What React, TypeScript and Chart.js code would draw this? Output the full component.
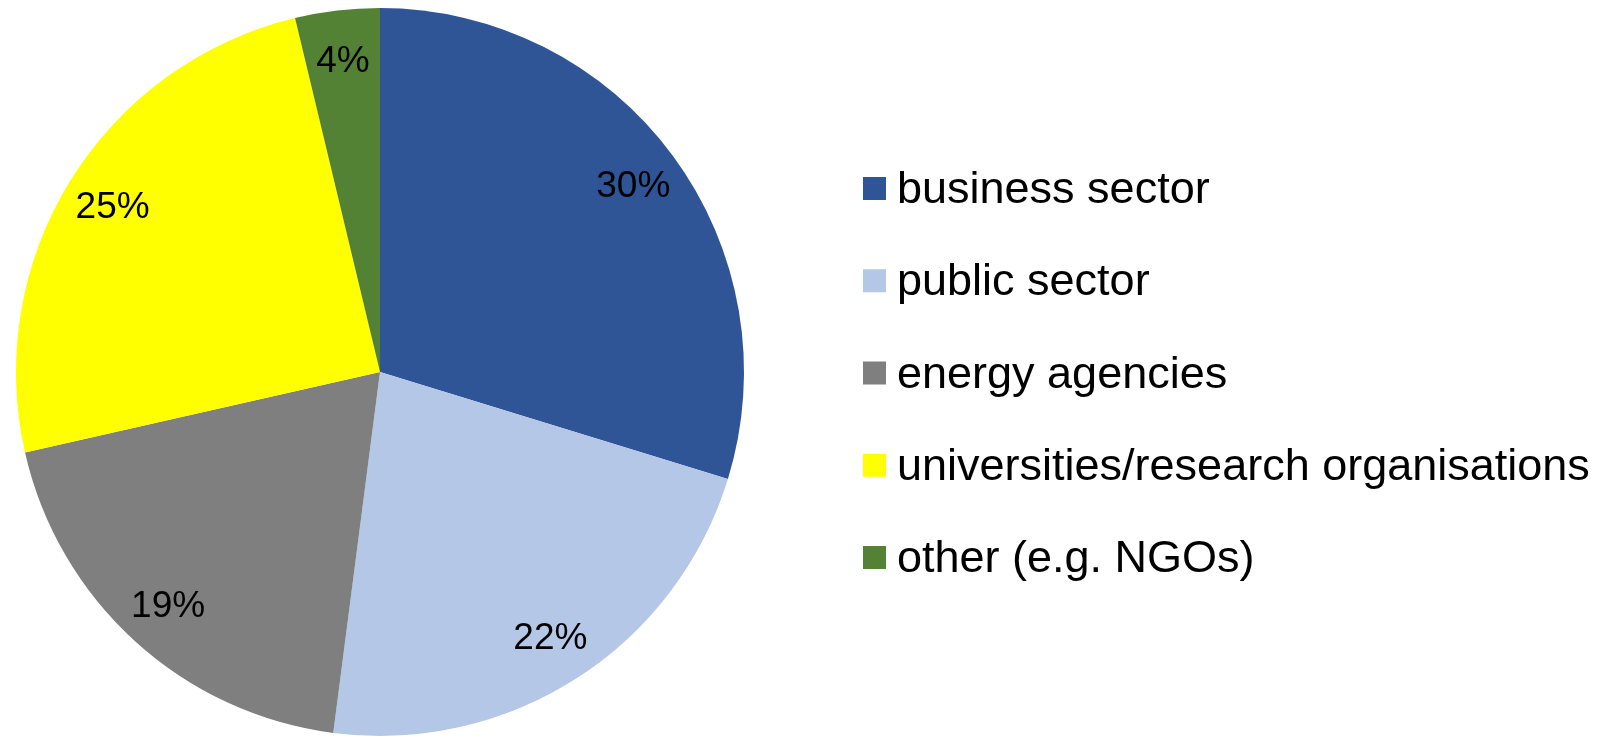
import React, { useEffect, useRef } from "react";
import { Chart, registerables } from "chart.js";

Chart.register(...registerables);

const categories = [
  "business sector",
  "public sector",
  "energy agencies",
  "universities/research organisations",
  "other (e.g. NGOs)",
];
const shares = [29.75, 22.3, 19.4, 24.8, 3.75];
const sliceLabels = ["30%", "22%", "19%", "25%", "4%"];
const colors = ["#2F5597", "#B4C7E7", "#7F7F7F", "#FFFF00", "#548235"];

const FONT = "'Liberation Sans', Arial, sans-serif";

const sliceLabelPlugin = {
  id: "sliceLabels",
  afterDatasetsDraw(chart: any) {
    const ctx = chart.ctx;
    const meta = chart.getDatasetMeta(0);
    ctx.save();
    ctx.font = `37px ${FONT}`;
    ctx.fillStyle = "#000000";
    ctx.textAlign = "center";
    ctx.textBaseline = "middle";
    meta.data.forEach((arc: any, i: number) => {
      const p = arc.getProps(["x", "y", "startAngle", "endAngle", "outerRadius"], true);
      const mid = (p.startAngle + p.endAngle) / 2;
      const r = p.outerRadius * 0.865;
      ctx.fillText(sliceLabels[i], p.x + Math.cos(mid) * r, p.y + Math.sin(mid) * r + 2);
    });
    ctx.restore();
  },
};

const legendPlugin = {
  id: "sideLegend",
  afterDraw(chart: any) {
    const ctx = chart.ctx;
    const boxX = 863;
    const box = 23;
    const firstCenter = 188.5;
    const step = 92.25;
    ctx.save();
    ctx.font = `45px ${FONT}`;
    ctx.textAlign = "left";
    ctx.textBaseline = "alphabetic";
    categories.forEach((name, i) => {
      const cy = firstCenter + i * step;
      ctx.fillStyle = colors[i];
      ctx.fillRect(boxX, cy - box / 2, box, box);
      ctx.fillStyle = "#000000";
      ctx.fillText(name, boxX + box + 11, cy + 14.5);
    });
    ctx.restore();
  },
};

export default function App() {
  const canvasRef = useRef<HTMLCanvasElement | null>(null);

  useEffect(() => {
    if (!canvasRef.current) return;
    const chart = new Chart(canvasRef.current, {
      type: "pie",
      data: {
        labels: categories,
        datasets: [
          {
            data: shares,
            backgroundColor: colors,
            borderWidth: 0,
          },
        ],
      },
      options: {
        responsive: false,
        animation: false,
        layout: { padding: { left: 16, top: 8, right: 865, bottom: 2 } },
        plugins: {
          legend: { display: false },
          tooltip: { enabled: false },
        },
      },
      plugins: [sliceLabelPlugin, legendPlugin],
    });
    return () => chart.destroy();
  }, []);

  return (
    <div style={{ position: "fixed", left: 0, top: 0, width: 1609, height: 738, background: "#ffffff" }}>
      <canvas ref={canvasRef} width={1609} height={738} style={{ display: "block" }} />
    </div>
  );
}
